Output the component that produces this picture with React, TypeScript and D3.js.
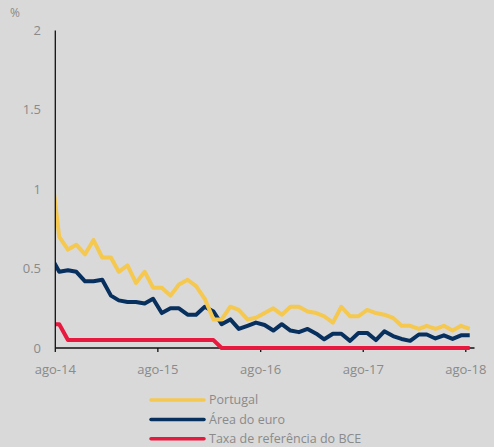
import React, { useEffect, useRef } from 'react';
import * as d3 from 'd3';

// monthly series, jul-14 .. ago-18 (first point sits before the axis start and is clipped)
const months: string[] = d3.range(0, 50).map((i) => {
    const d = new Date(Date.UTC(2014, 6 + i, 15));
    return d.toISOString().slice(0, 10);
});

const portugal: number[] = [
    1.16, 0.70, 0.62, 0.65, 0.59, 0.68, 0.57, 0.57, 0.48, 0.52,
    0.41, 0.48, 0.38, 0.38, 0.33, 0.40, 0.43, 0.39, 0.31, 0.18,
    0.18, 0.26, 0.24, 0.18, 0.19, 0.22, 0.25, 0.21, 0.26, 0.26,
    0.23, 0.22, 0.20, 0.16, 0.26, 0.20, 0.20, 0.24, 0.22, 0.21,
    0.19, 0.14, 0.14, 0.12, 0.14, 0.12, 0.14, 0.11, 0.14, 0.12,
];

const areaEuro: number[] = [
    0.58, 0.48, 0.49, 0.48, 0.42, 0.42, 0.43, 0.33, 0.30, 0.29,
    0.29, 0.28, 0.31, 0.22, 0.25, 0.25, 0.21, 0.21, 0.26, 0.23,
    0.15, 0.18, 0.12, 0.14, 0.16, 0.145, 0.11, 0.15, 0.11, 0.10,
    0.12, 0.09, 0.055, 0.09, 0.09, 0.045, 0.095, 0.095, 0.05, 0.105,
    0.075, 0.057, 0.045, 0.085, 0.085, 0.06, 0.08, 0.057, 0.08, 0.08,
];

const taxaBCE: number[] = [
    0.15, 0.15, 0.05, 0.05, 0.05, 0.05, 0.05, 0.05, 0.05, 0.05,
    0.05, 0.05, 0.05, 0.05, 0.05, 0.05, 0.05, 0.05, 0.05, 0.05,
    0, 0, 0, 0, 0, 0, 0, 0, 0, 0,
    0, 0, 0, 0, 0, 0, 0, 0, 0, 0,
    0, 0, 0, 0, 0, 0, 0, 0, 0, 0,
];

const seriesNames: string[] = ['Portugal', 'Área do euro', 'Taxa de referência do BCE'];
const seriesColors: string[] = ['#f5c850', '#08305e', '#e8193f'];
const yTicks: number[] = [0, 0.5, 1, 1.5, 2];
const xTickLabels: string[] = ['ago-14', 'ago-15', 'ago-16', 'ago-17', 'ago-18'];

const App: React.FC = () => {
    const ref = useRef<HTMLDivElement | null>(null);

    useEffect(() => {
        const wrap = ref.current;
        if (!wrap) return;

        const width = 494;
        const height = 447;
        const left = 55.3;
        const right = 474.5;
        const top = 30.5;
        const bottom = 348;
        const font = "'Open Sans', sans-serif";
        const textColor = '#8a8a8a';

        const svg = d3
            .select(wrap)
            .append('svg')
            .attr('width', width)
            .attr('height', height)
            .style('display', 'block');

        svg.append('rect').attr('width', width).attr('height', height).attr('fill', '#d9d9d9');

        const x = d3
            .scaleUtc()
            .domain([new Date(Date.UTC(2014, 7, 1)), new Date(Date.UTC(2018, 8, 1))])
            .range([left, right]);
        const y = d3.scaleLinear().domain([0, 2]).range([bottom, top]);

        svg.append('defs')
            .append('clipPath')
            .attr('id', 'plot-clip')
            .append('rect')
            .attr('x', left)
            .attr('y', 0)
            .attr('width', right - left + 2)
            .attr('height', height);

        // y labels
        svg.append('g')
            .selectAll('text')
            .data(yTicks)
            .enter()
            .append('text')
            .attr('x', 41)
            .attr('y', (d) => y(d))
            .attr('dy', '0.35em')
            .attr('text-anchor', 'end')
            .style('font-family', font)
            .style('font-size', '13px')
            .style('fill', textColor)
            .text((d) => String(d));

        svg.append('text')
            .attr('x', 10)
            .attr('y', 17)
            .style('font-family', font)
            .style('font-size', '12px')
            .style('fill', textColor)
            .text('%');

        // x axis
        const tickDates = xTickLabels.map((_, i) => new Date(Date.UTC(2014 + i, 7, 1)));
        const xAxis = svg.append('g');
        xAxis.append('line')
            .attr('x1', left).attr('x2', right)
            .attr('y1', bottom).attr('y2', bottom)
            .attr('stroke', '#111').attr('stroke-width', 1.3);
        xAxis.selectAll('line.tick')
            .data(tickDates)
            .enter()
            .append('line')
            .attr('class', 'tick')
            .attr('x1', (d) => x(d)).attr('x2', (d) => x(d))
            .attr('y1', bottom).attr('y2', bottom + 4)
            .attr('stroke', '#111').attr('stroke-width', 1.3);
        xAxis.selectAll('text')
            .data(tickDates)
            .enter()
            .append('text')
            .attr('x', (d) => x(d))
            .attr('y', bottom + 26)
            .attr('text-anchor', 'middle')
            .style('font-family', font)
            .style('font-size', '13px')
            .style('fill', textColor)
            .text((_, i) => xTickLabels[i]);

        // lines
        const dates = months.map((m) => new Date(m + 'T00:00:00Z'));
        const line = d3
            .line<number>()
            .x((_, i) => x(dates[i]))
            .y((d) => y(d));

        const plot = svg.append('g').attr('clip-path', 'url(#plot-clip)');
        [areaEuro, portugal, taxaBCE].forEach((s, j) => {
            const idx = [1, 0, 2][j];
            plot.append('path')
                .datum(s)
                .attr('d', line)
                .attr('fill', 'none')
                .attr('stroke', seriesColors[idx])
                .attr('stroke-width', 4)
                .attr('stroke-linejoin', 'round');
        });

        // y axis line
        svg.append('line')
            .attr('x1', left).attr('x2', left)
            .attr('y1', top).attr('y2', bottom)
            .attr('stroke', '#111').attr('stroke-width', 1.3);

        // legend
        const legend = svg.append('g');
        seriesNames.forEach((name, i) => {
            const ly = 400 + i * 19.4;
            legend.append('line')
                .attr('x1', 151).attr('x2', 204)
                .attr('y1', ly).attr('y2', ly)
                .attr('stroke', seriesColors[i])
                .attr('stroke-width', 3.5)
                .attr('stroke-linecap', 'round');
            legend.append('text')
                .attr('x', 209)
                .attr('y', ly)
                .attr('dy', '0.35em')
                .style('font-family', font)
                .style('font-size', '12.5px')
                .style('fill', textColor)
                .text(name);
        });

        return () => {
            d3.select(wrap).select('svg').remove();
        };
    }, []);

    return <div ref={ref} style={{ position: 'absolute', left: 0, top: 0 }}></div>;
};

export default App;
